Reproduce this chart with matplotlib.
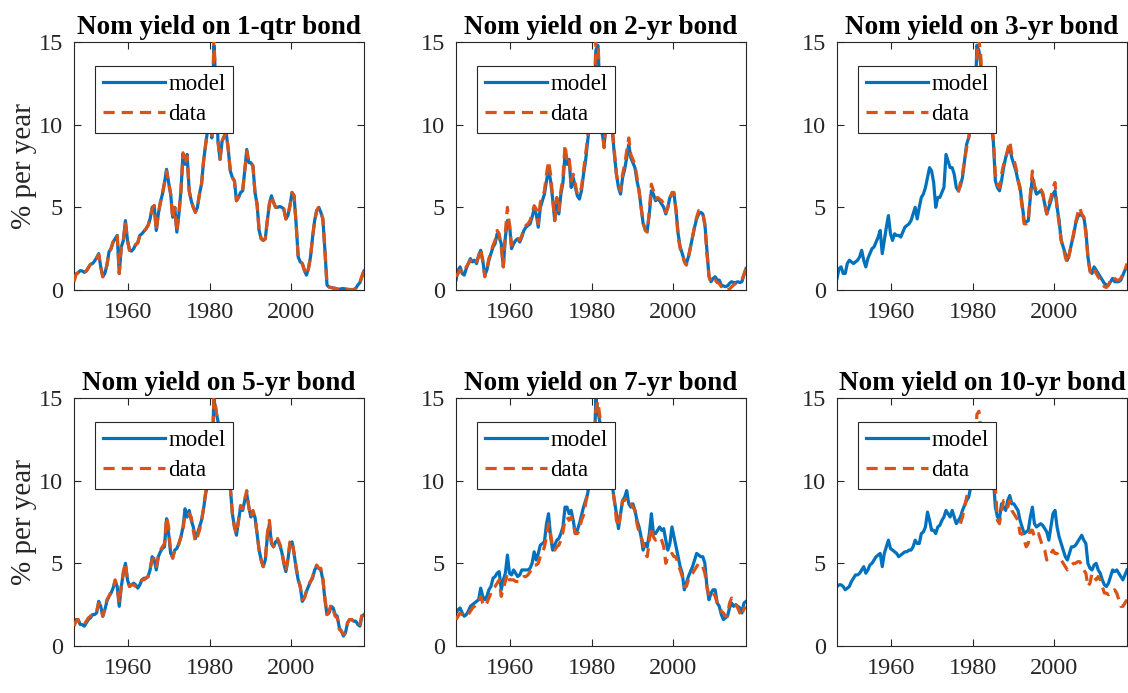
import matplotlib.pyplot as plt
import numpy as np

plt.rcParams['font.family'] = 'serif'
plt.rcParams['font.serif'] = ['Liberation Serif', 'DejaVu Serif']
plt.rcParams['axes.linewidth'] = 0.8

# time span of the samples (semiannual points)
t_start, t_end = 1946.75, 2017.9

titles = ['Nom yield on 1-qtr bond', 'Nom yield on 2-yr bond', 'Nom yield on 3-yr bond',
          'Nom yield on 5-yr bond', 'Nom yield on 7-yr bond', 'Nom yield on 10-yr bond']

# ---- 1-quarter bond ----
q1_model = [0.6, 0.97, 1.05, 1.17, 1.15, 1.07, 1.15, 1.35, 1.55, 1.6,
            1.75, 1.95, 2.2, 1.4, 0.8, 1.0, 1.5, 2.3, 2.5, 2.9,
            3.1, 3.3, 1.0, 2.6, 3.0, 4.2, 3.0, 2.4, 2.35, 2.5,
            2.75, 2.85, 3.3, 3.4, 3.55, 3.7, 3.9, 4.3, 5.0, 5.1,
            3.6, 4.6, 5.3, 5.8, 6.5, 7.3, 6.5, 5.8, 4.4, 5.0,
            3.5, 4.6, 6.0, 8.2, 7.6, 8.2, 6.0, 5.4, 5.0, 4.7,
            5.0, 5.8, 6.4, 7.8, 8.8, 9.7, 12.0, 9.2, 14.8, 12.5,
            9.0, 7.9, 9.0, 9.3, 9.5, 8.5, 7.2, 6.8, 6.6, 5.4,
            5.6, 5.9, 6.0, 7.2, 8.5, 7.7, 7.7, 7.5, 5.9, 5.2,
            3.6, 3.1, 3.0, 3.1, 4.2, 5.2, 5.7, 5.3, 5.0, 5.0,
            5.05, 5.0, 4.9, 4.3, 4.5, 5.1, 5.9, 5.7, 4.0, 2.0,
            1.7, 1.6, 1.2, 0.9, 1.3, 2.0, 3.2, 4.2, 4.8, 5.0,
            4.7, 4.3, 2.4, 0.3, 0.18, 0.15, 0.12, 0.1, 0.06, 0.04,
            0.08, 0.09, 0.06, 0.04, 0.03, 0.03, 0.03, 0.1, 0.3, 0.45,
            0.8, 1.15]
q1_data = [0.5, 0.95, 1.05, 1.15, 1.15, 1.05, 1.15, 1.35, 1.55, 1.6,
           1.75, 1.95, 2.15, 1.4, 0.8, 1.0, 1.5, 2.3, 2.5, 2.9,
           3.1, 3.35, 1.0, 2.6, 3.0, 4.1, 3.0, 2.4, 2.35, 2.5,
           2.75, 2.85, 3.3, 3.4, 3.55, 3.7, 3.9, 4.3, 4.9, 5.1,
           3.6, 4.6, 5.3, 5.8, 6.5, 7.2, 6.5, 5.8, 4.3, 5.0,
           3.5, 4.6, 6.0, 8.3, 7.6, 8.1, 6.0, 5.4, 5.0, 4.7,
           5.0, 5.8, 6.4, 7.8, 8.8, 9.7, 12.0, 9.1, 15.2, 12.5,
           9.0, 7.9, 9.0, 9.3, 9.5, 8.5, 7.2, 6.8, 6.6, 5.4,
           5.6, 5.9, 6.0, 7.2, 8.4, 7.7, 7.7, 7.5, 5.9, 5.2,
           3.6, 3.1, 3.0, 3.1, 4.2, 5.2, 5.7, 5.3, 5.0, 5.0,
           5.05, 5.0, 4.9, 4.3, 4.5, 5.1, 5.9, 5.7, 4.0, 2.0,
           1.7, 1.6, 1.2, 0.9, 1.3, 2.0, 3.2, 4.2, 4.8, 5.0,
           4.7, 4.3, 2.4, 0.3, 0.18, 0.15, 0.12, 0.1, 0.06, 0.04,
           0.08, 0.09, 0.06, 0.04, 0.02, 0.02, 0.02, 0.1, 0.3, 0.45,
           0.85, 1.2]

# ---- 2-year bond ----
y2_model = [0.6, 1.2, 1.4, 1.0, 0.9, 1.3, 1.6, 1.9, 1.7, 1.8,
            1.6, 2.1, 2.4, 1.8, 0.9, 1.2, 1.8, 2.2, 2.6, 2.8,
            3.4, 3.2, 2.8, 1.4, 3.2, 4.2, 4.0, 2.5, 2.8, 3.0,
            3.1, 2.9, 3.2, 3.6, 3.8, 3.9, 4.0, 4.4, 4.9, 4.6,
            3.8, 5.0, 5.4, 5.8, 6.6, 7.3, 6.6, 5.5, 4.2, 5.4,
            4.6, 5.8, 6.5, 8.2, 7.6, 7.9, 6.2, 6.8, 6.2, 5.7,
            5.5, 6.0, 7.0, 7.8, 9.0, 10.0, 12.5, 9.8, 14.5, 14.8,
            12.0, 9.5, 8.8, 10.0, 10.8, 10.2, 9.6, 8.2, 7.0, 6.2,
            5.8, 6.8, 7.3, 8.0, 8.8, 8.0, 7.7, 7.4, 6.6, 6.0,
            5.0, 4.0, 3.7, 3.6, 4.6, 6.0, 5.8, 5.4, 5.5, 5.4,
            5.2, 5.0, 4.6, 5.0, 5.6, 5.8, 5.8, 4.8, 3.4, 2.6,
            2.2, 1.8, 1.6, 2.0, 2.6, 3.2, 3.8, 4.3, 4.6, 4.7,
            4.6, 4.0, 2.4, 0.8, 0.5, 0.7, 0.8, 0.6, 0.6, 0.3,
            0.25, 0.2, 0.25, 0.4, 0.5, 0.45, 0.45, 0.5, 0.45, 0.5,
            0.9, 1.3]
y2_data = [0.8, 1.0, 1.2, 1.1, 1.0, 1.4, 1.6, 1.8, 1.7, 1.9,
           1.7, 2.0, 2.5, 1.7, 0.8, 1.3, 1.9, 2.3, 2.7, 3.0,
           3.6, 3.4, 2.6, 1.4, 3.5, 5.0, 3.9, 2.7, 2.9, 3.1,
           3.1, 3.0, 3.3, 3.7, 3.9, 4.0, 4.2, 4.6, 5.1, 4.9,
           4.0, 5.3, 5.6, 6.0, 7.0, 7.8, 7.0, 5.6, 4.2, 5.6,
           4.8, 6.0, 6.8, 8.8, 7.8, 8.0, 6.6, 7.0, 6.4, 5.8,
           5.8, 6.2, 7.2, 8.2, 9.2, 10.4, 12.8, 10.0, 15.2, 15.0,
           12.4, 9.8, 8.6, 10.2, 11.0, 10.4, 9.8, 8.4, 7.0, 6.4,
           6.0, 7.0, 7.6, 8.4, 9.2, 8.2, 7.9, 7.6, 6.8, 6.0,
           5.0, 4.1, 3.6, 3.5, 4.8, 6.4, 6.0, 5.5, 5.6, 5.5,
           5.4, 5.2, 4.7, 5.0, 5.5, 5.9, 5.9, 4.8, 3.2, 2.5,
           2.2, 1.7, 1.5, 1.9, 2.6, 3.2, 3.9, 4.4, 4.8, 4.8,
           4.7, 3.9, 2.2, 0.9, 0.4, 0.5, 0.6, 0.45, 0.4, 0.2,
           0.25, 0.1, 0.02, 0.05, 0.2, 0.3, 0.4, 0.5, 0.5, 0.6,
           0.95, 1.3]

# ---- 3-year bond (data from mid-1976) ----
y3_model = [0.7, 1.3, 1.4, 1.0, 1.0, 1.6, 1.8, 1.7, 1.6, 1.7,
            1.8, 2.0, 2.4, 1.8, 1.4, 1.9, 2.2, 2.5, 2.6, 2.9,
            3.2, 3.6, 2.2, 3.0, 3.8, 4.5, 3.4, 3.0, 3.4, 3.3,
            3.3, 3.2, 3.5, 3.8, 3.9, 4.0, 4.2, 4.6, 5.0, 4.3,
            5.0, 5.6, 5.8, 6.2, 6.8, 7.4, 7.2, 6.5, 5.0, 5.6,
            5.6, 5.9, 6.2, 8.2, 7.8, 7.4, 7.4, 7.0, 6.2, 6.0,
            6.3, 6.8, 7.8, 8.8, 9.2, 9.8, 12.0, 10.5, 14.8, 14.5,
            13.5, 11.0, 10.0, 10.8, 11.0, 10.0, 9.0, 6.6, 6.2, 6.0,
            6.6, 7.4, 8.0, 8.4, 8.6, 8.0, 7.6, 7.2, 6.6, 6.2,
            5.2, 4.2, 4.1, 4.2, 5.6, 6.8, 6.2, 5.8, 5.9, 6.0,
            5.8, 5.2, 4.6, 5.0, 5.4, 5.8, 6.0, 5.0, 4.2, 3.0,
            2.6, 2.2, 1.8, 2.2, 2.8, 3.3, 4.0, 4.4, 4.6, 4.5,
            4.4, 3.6, 2.0, 1.2, 1.0, 1.4, 1.2, 1.0, 0.8, 0.6,
            0.4, 0.3, 0.3, 0.5, 0.7, 0.5, 0.5, 0.5, 0.6, 0.9,
            1.2, 1.4]
y3_data = [5.9,
           6.5, 7.0, 7.8, 8.6, 9.2, 9.9, 12.2, 10.2, 14.0, 15.2,
           14.0, 11.5, 10.2, 10.9, 11.2, 10.2, 9.2, 7.0, 6.4, 6.2,
           7.0, 7.6, 8.0, 8.5, 9.0, 8.2, 7.9, 7.4, 6.8, 6.0,
           5.0, 4.0, 4.0, 4.2, 5.8, 7.2, 6.3, 6.0, 6.2, 6.1,
           5.9, 5.2, 4.6, 5.2, 5.6, 6.2, 6.5, 5.0, 4.0, 3.0,
           2.6, 2.0, 1.6, 2.2, 2.8, 3.4, 4.1, 4.6, 5.0, 4.6,
           4.4, 3.4, 2.0, 1.1, 1.0, 1.3, 1.0, 0.8, 0.6, 0.4,
           0.2, 0.15, 0.3, 0.6, 0.8, 0.7, 0.6, 0.6, 0.7, 1.0,
           1.2, 1.6]

# ---- 5-year bond ----
y5_model = [1.3, 1.6, 1.6, 1.3, 1.3, 1.2, 1.4, 1.6, 1.7, 1.9,
            1.9, 2.0, 2.7, 2.4, 1.8, 2.2, 2.7, 3.0, 3.2, 3.5,
            3.9, 3.6, 2.4, 3.6, 4.4, 5.0, 4.0, 3.6, 3.7, 3.8,
            3.7, 3.5, 3.7, 4.0, 4.1, 4.1, 4.2, 4.6, 5.4, 5.2,
            4.6, 5.4, 5.7, 5.9, 6.0, 7.7, 6.8, 5.6, 5.4, 5.8,
            5.9, 6.2, 6.6, 7.2, 8.3, 7.8, 8.2, 7.6, 7.2, 6.5,
            6.8, 7.2, 7.6, 8.3, 9.2, 9.8, 12.0, 10.5, 15.0, 14.2,
            13.6, 12.0, 10.8, 11.5, 12.0, 11.0, 9.6, 8.0, 7.2, 6.7,
            7.6, 8.4, 8.2, 8.8, 9.2, 8.4, 7.8, 8.0, 7.8, 6.8,
            5.8, 5.2, 4.8, 5.2, 6.6, 7.4, 6.2, 6.0, 6.3, 6.4,
            6.1, 5.7, 5.0, 4.5, 5.2, 6.2, 6.3, 5.6, 4.7, 4.0,
            3.6, 2.7, 2.9, 3.3, 3.6, 3.9, 4.1, 4.6, 4.8, 4.7,
            4.6, 4.0, 2.8, 1.9, 2.0, 2.4, 2.3, 1.9, 1.8, 1.1,
            0.9, 0.6, 0.8, 1.4, 1.6, 1.6, 1.5, 1.5, 1.3, 1.2,
            1.8, 1.9]
y5_data = [1.2, 1.5, 1.6, 1.3, 1.3, 1.3, 1.5, 1.7, 1.8, 2.0,
           2.0, 2.1, 2.6, 2.3, 1.8, 2.3, 2.8, 3.0, 3.3, 3.5,
           4.0, 3.6, 2.6, 3.6, 4.5, 5.0, 4.0, 3.6, 3.7, 3.7,
           3.6, 3.6, 3.8, 4.0, 4.0, 4.1, 4.2, 4.7, 5.2, 5.3,
           4.8, 5.4, 5.8, 6.0, 6.2, 7.8, 7.2, 5.6, 5.3, 5.8,
           5.8, 6.2, 6.6, 7.0, 8.0, 7.9, 8.0, 7.8, 7.0, 6.3,
           6.6, 7.0, 7.5, 8.4, 9.3, 9.8, 12.2, 10.6, 15.0, 14.4,
           13.4, 12.0, 10.8, 11.6, 12.2, 11.2, 9.6, 8.0, 7.2, 6.8,
           7.6, 8.5, 8.3, 8.9, 9.4, 8.4, 7.8, 8.2, 7.8, 6.8,
           5.8, 5.2, 4.8, 5.2, 6.8, 7.6, 6.3, 6.0, 6.4, 6.5,
           6.2, 5.8, 5.1, 4.5, 5.3, 6.3, 6.4, 5.6, 4.8, 4.0,
           3.6, 2.8, 2.9, 3.3, 3.7, 3.9, 4.2, 4.6, 4.9, 4.7,
           4.7, 4.1, 2.9, 1.9, 2.1, 2.5, 2.2, 1.8, 1.7, 1.0,
           0.9, 0.7, 0.8, 1.4, 1.6, 1.6, 1.5, 1.5, 1.3, 1.3,
           1.9, 1.8]

# ---- 7-year bond ----
y7_model = [2.0, 2.2, 2.3, 2.0, 1.8, 1.9, 2.1, 2.4, 2.5, 2.6,
            2.7, 2.8, 3.5, 3.0, 2.8, 3.0, 3.4, 3.6, 4.1, 4.2,
            4.4, 4.5, 3.4, 4.0, 4.4, 5.5, 4.4, 4.3, 4.6, 4.4,
            4.2, 4.3, 4.6, 4.6, 4.6, 4.6, 4.7, 5.0, 5.7, 5.2,
            5.6, 6.1, 6.2, 6.3, 7.4, 8.0, 6.6, 5.8, 6.1, 6.4,
            6.5, 6.8, 7.2, 8.4, 8.4, 8.0, 8.2, 7.6, 6.8, 7.0,
            7.4, 7.9, 8.4, 8.8, 9.2, 10.0, 12.2, 11.0, 15.0, 14.2,
            13.5, 12.4, 11.2, 11.8, 12.2, 11.2, 9.7, 8.8, 8.0, 7.1,
            8.0, 8.8, 9.0, 9.4, 8.6, 8.4, 8.6, 8.2, 7.6, 7.2,
            6.6, 5.8, 6.2, 6.0, 6.8, 8.0, 6.8, 6.8, 7.0, 7.2,
            7.0, 7.1, 6.4, 5.8, 6.2, 7.2, 6.6, 6.0, 5.4, 4.8,
            4.4, 3.4, 3.8, 4.2, 4.5, 4.8, 5.2, 5.6, 5.5, 5.4,
            5.4, 5.0, 3.6, 2.8, 3.2, 3.4, 3.4, 2.6, 2.4, 1.9,
            1.6, 1.7, 1.8, 2.3, 2.6, 2.4, 2.5, 2.4, 2.3, 2.0,
            2.6, 2.7]
y7_data = [1.6, 1.8, 2.0, 1.9, 1.8, 1.8, 1.9, 2.1, 2.3, 2.4,
           2.5, 2.6, 3.0, 2.6, 2.4, 2.6, 2.9, 3.2, 3.5, 3.6,
           3.8, 4.0, 3.0, 3.5, 3.9, 4.4, 4.0, 4.0, 4.0, 3.9,
           3.9, 3.9, 4.1, 4.2, 4.2, 4.3, 4.5, 4.6, 4.9, 4.9,
           5.0, 5.4, 5.6, 6.0, 6.6, 7.4, 6.8, 5.9, 5.8, 6.0,
           6.1, 6.4, 6.9, 7.6, 7.8, 7.6, 7.8, 7.4, 6.8, 6.8,
           7.0, 7.6, 7.9, 8.6, 9.2, 10.0, 12.2, 11.2, 14.3, 14.8,
           13.8, 12.6, 11.2, 11.8, 12.4, 11.4, 9.6, 8.8, 7.6, 7.2,
           8.0, 8.8, 8.8, 9.0, 8.8, 8.6, 8.4, 8.2, 7.4, 6.9,
           6.6, 6.2, 5.6, 5.4, 6.4, 7.2, 6.6, 6.4, 6.5, 6.6,
           6.4, 6.0, 5.0, 5.4, 5.4, 5.6, 5.4, 5.4, 4.9, 4.6,
           4.2, 3.6, 3.6, 4.0, 4.3, 4.4, 4.6, 4.8, 5.0, 4.8,
           4.8, 4.4, 3.6, 3.0, 3.2, 3.2, 3.0, 2.6, 2.4, 2.1,
           2.0, 1.8, 1.8, 2.6, 2.9, 2.6, 2.5, 2.3, 2.0, 1.8,
           2.3, 2.3]

# ---- 10-year bond (data from 1977) ----
y10_model = [3.6, 3.7, 3.7, 3.6, 3.4, 3.5, 3.6, 3.9, 4.1, 4.3,
             4.3, 4.4, 4.6, 4.8, 4.4, 4.6, 4.9, 5.0, 5.2, 5.4,
             5.5, 5.6, 4.8, 5.6, 6.0, 6.4, 5.9, 5.8, 5.7, 5.6,
             5.4, 5.5, 5.6, 5.7, 5.7, 5.8, 5.8, 6.0, 6.4, 6.2,
             6.2, 6.8, 6.9, 7.2, 8.1, 7.6, 7.0, 7.0, 6.8, 7.2,
             7.3, 7.6, 7.8, 8.2, 8.0, 7.8, 8.2, 7.8, 7.4, 7.6,
             7.8, 8.2, 8.5, 8.8, 9.0, 9.6, 11.0, 10.2, 12.0, 12.5,
             12.0, 11.2, 10.5, 11.0, 11.4, 10.8, 10.2, 8.4, 7.8, 7.7,
             8.6, 8.4, 8.2, 8.8, 9.1, 8.6, 8.6, 8.4, 8.2, 7.6,
             7.2, 6.8, 6.9, 7.0, 7.8, 8.4, 7.4, 7.2, 7.3, 7.4,
             7.3, 7.1, 6.9, 6.4, 7.2, 8.0, 8.2, 7.2, 6.6, 6.2,
             5.8, 5.4, 5.2, 5.6, 6.0, 6.0, 6.1, 6.3, 6.5, 6.7,
             6.4, 6.2, 5.0, 4.7, 4.6, 4.9, 5.0, 4.6, 4.4, 4.0,
             3.7, 3.6, 3.8, 4.2, 4.6, 4.5, 4.6, 4.4, 4.2, 4.0,
             4.3, 4.6]
y10_data = [7.4, 7.8, 8.4, 9.0, 9.4, 10.6, 12.2, 11.0, 14.0, 14.2,
            13.0, 11.6, 10.8, 11.8, 12.2, 11.5, 11.0, 9.6, 7.6, 7.4,
            8.2, 8.8, 8.8, 8.4, 8.8, 8.2, 8.0, 7.8, 7.6, 6.8,
            6.8, 6.4, 6.0, 6.2, 7.0, 7.0, 6.6, 6.6, 6.8, 6.4,
            6.0, 5.8, 5.2, 5.4, 5.6, 5.8, 5.6, 5.6, 5.4, 5.2,
            5.0, 4.8, 4.6, 4.8, 4.9, 5.0, 5.0, 5.1, 5.1, 4.9,
            4.6, 4.4, 3.6, 3.8, 4.4, 4.2, 4.0, 4.2, 4.0, 3.6,
            3.2, 3.2, 3.1, 3.2, 3.2, 3.4, 3.2, 2.8, 2.4, 2.4,
            2.6, 2.8]

models = [q1_model, y2_model, y3_model, y5_model, y7_model, y10_model]
datas = [q1_data, y2_data, y3_data, y5_data, y7_data, y10_data]

blue = '#0072BD'
orange = '#D95319'
axcol = '#262626'

fig = plt.figure(figsize=(11.28, 6.93), dpi=100)

lefts = [74, 456, 837]
tops = [42, 398]
W, H = 1128.0, 693.0
aw, ah = 290, 248

for i in range(6):
    r, c = divmod(i, 3)
    x0 = lefts[c] / W
    y0 = 1 - (tops[r] + ah) / H
    ax = fig.add_axes([x0, y0, aw / W, ah / H])

    model = models[i]
    data = datas[i]
    t = np.linspace(t_start, t_end, len(model))
    ax.plot(t, model, color=blue, lw=2.3, label='model', zorder=2)
    ax.plot(t[-len(data):], data, color=orange, lw=2.3, linestyle=(0, (3.5, 2.2)),
            label='data', zorder=3)

    ax.set_xlim(t_start, t_end)
    ax.set_ylim(0, 15)
    ax.set_xticks([1960, 1980, 2000])
    ax.set_yticks([0, 5, 10, 15])
    ax.tick_params(direction='in', top=True, right=True, length=5, width=0.8,
                   colors=axcol, labelsize=17.5)
    ax.tick_params(axis='x', pad=9)
    ax.tick_params(axis='y', pad=8)
    for s in ax.spines.values():
        s.set_color(axcol)
    ax.set_title(titles[i], fontsize=19.5, fontweight='bold', pad=6)
    if c == 0:
        ax.set_ylabel('% per year', fontsize=21, color=axcol, labelpad=1)

    leg = ax.legend(loc='upper left', bbox_to_anchor=(0.072, 0.905), borderaxespad=0,
                    fontsize=16.5, handlelength=2.7, handletextpad=0.15,
                    labelspacing=0.4, borderpad=0.35, fancybox=False,
                    framealpha=1, edgecolor=axcol)
    leg.get_frame().set_linewidth(0.8)
    leg.set_zorder(10)

fig.savefig('out.png', dpi=100)
